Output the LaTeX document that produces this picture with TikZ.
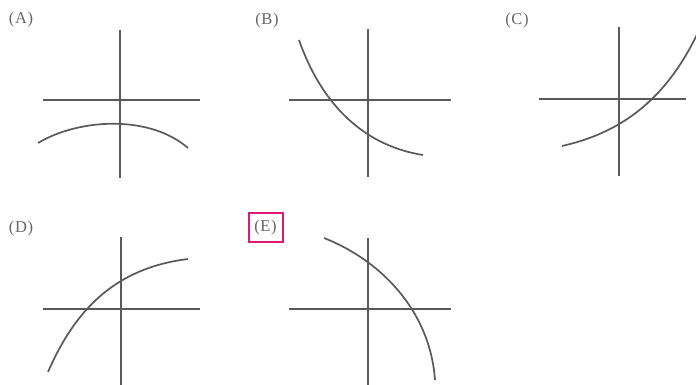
\documentclass[tikz,border=0pt]{standalone}
\usepackage{fontspec}
\newfontfamily\labfont[LetterSpace=4]{Liberation Serif}
\definecolor{ink}{HTML}{5A5A5A}
\definecolor{txt}{HTML}{666666}
\definecolor{hilite}{HTML}{E0187A}
\begin{document}
\begin{tikzpicture}[x=1pt,y=-1pt,
  axis/.style={draw=ink,line width=1.3pt},
  curve/.style={draw=ink,line width=1.7pt},
  lab/.style={text=txt,font=\labfont\fontsize{16.5}{18}\selectfont,inner sep=0pt,anchor=center},
  hbox/.style={draw=hilite,line width=2pt}]
\useasboundingbox[fill=white] (0,0) rectangle (696,385);
% (A)
\node[lab] (la) at (21,20) {(A)};
\draw[axis] (120,30) -- (120,178);
\draw[axis] (43,100) -- (200,100);
\draw[curve] (38,143) .. controls (80,118) and (150,115) .. (188,148);
% (B)
\node[lab] (lb) at (267,21) {(B)};
\draw[axis] (368,29) -- (368,177);
\draw[axis] (289,100) -- (451,100);
\draw[curve] (299,40) .. controls (320,100) and (360,145) .. (423,155);
% (C)
\node[lab] (lc) at (517,21) {(C)};
\draw[axis] (619,27) -- (619,176);
\draw[axis] (539,99) -- (686,99);
\draw[curve] (562,146) .. controls (615,134) and (665,105) .. (700,28);
% (D)
\node[lab] (ld) at (21,229) {(D)};
\draw[axis] (121,237) -- (121,385);
\draw[axis] (43,309) -- (200,309);
\draw[curve] (48,372) .. controls (75,310) and (115,268) .. (188,259);
% (E)
\node[lab] (le) at (265.5,227.5) {(E)};
\draw[hbox] (248.5,212.5) rectangle (283,242);
\draw[axis] (368,238) -- (368,385);
\draw[axis] (289,309) -- (451,309);
\draw[curve] (324,238) .. controls (380,260) and (430,310) .. (435,380);
\end{tikzpicture}
\end{document}
